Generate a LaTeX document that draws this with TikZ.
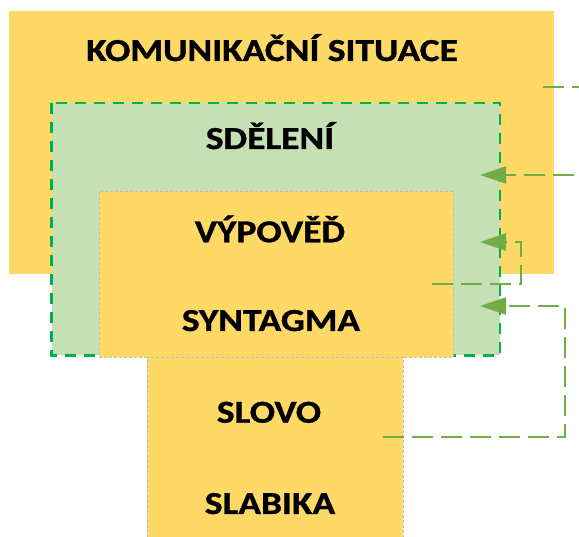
\documentclass[tikz,border=0pt]{standalone}
\usepackage{fontspec}
\setmainfont{Carlito}[BoldFeatures={FakeBold=1}]
\usetikzlibrary{arrows.meta}
\definecolor{sunny}{HTML}{FFD966}
\definecolor{sage}{HTML}{C5E0B4}
\definecolor{boxgreen}{HTML}{00B050}
\definecolor{linkgreen}{HTML}{70AD47}
\definecolor{edgegray}{HTML}{BFBFBF}
\newcommand{\widecaps}[1]{\scalebox{1.17}[1]{#1}}
\begin{document}
\begin{tikzpicture}[x=1pt,y=-1pt,
  level/.style={font=\fontsize{32}{32}\selectfont\bfseries, anchor=base, inner sep=0pt},
  area/.style={anchor=north west, inner sep=0pt, outer sep=0pt},
  panel/.style={area, fill=sunny, draw=edgegray, line width=0.8pt, dash pattern=on 3pt off 2pt},
  link/.style={draw=linkgreen, line width=2.2pt, dash pattern=on 21pt off 8pt, line join=miter},
  tip/.style={-{Triangle[length=26pt,width=17pt]}}
]
\useasboundingbox (0,0) rectangle (579,537);
\clip (0,0) rectangle (579,537);

% nested levels
\node[area, fill=sunny, minimum width=545pt, minimum height=263pt] (situace) at (9,11) {};
\node[area, fill=sage, minimum width=448.5pt, minimum height=252.5pt] (sdeleni) at (51.5,103) {};
\draw[boxgreen, line width=2.7pt, dash pattern=on 11pt off 8pt]
  (sdeleni.north west) rectangle (sdeleni.south east);
\node[panel, minimum width=354pt, minimum height=166pt] (vypoved) at (99,191) {};
\node[panel, minimum width=256pt, minimum height=190pt] (slovo) at (147,357) {};

% labels
\node[level] (tSituace) at (272,61) {\widecaps{KOMUNIKAČNÍ SITUACE}};
\node[level] (tSdeleni) at (270,149) {\widecaps{SDĚLENÍ}};
\node[level] (tVypoved) at (270,242.3) {\widecaps{VÝPOVĚĎ}};
\node[level] (tSyntagma) at (271,331) {\widecaps{SYNTAGMA}};
\node[level] (tSlovo) at (269,422.7) {\widecaps{SLOVO}};
\node[level] (tSlabika) at (270,514) {\widecaps{SLABIKA}};

% feedback connectors
\coordinate (aStart) at (543,87);
\coordinate (aEnd) at (582,87);
\coordinate (bStart) at (574,175);
\coordinate (bTip) at (480,175);
\coordinate (cStart) at (432,284);
\coordinate (cTip) at (480,242);
\coordinate (dStart) at (383,437);
\coordinate (dTip) at (480,306);

\draw[link] (aStart) -- (aEnd);
\draw[link, tip] (bStart) -- (bTip);
\draw[link, tip] (cStart) -- ++(89,0) |- (cTip);
\draw[link, tip] (dStart) -- ++(182,0) |- (dTip);
\end{tikzpicture}
\end{document}
